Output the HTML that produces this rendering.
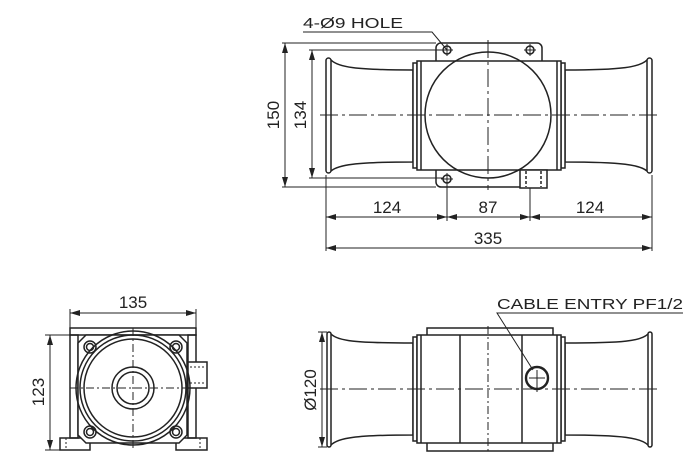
<!DOCTYPE html>
<html><head><meta charset="utf-8"><style>
html,body{margin:0;padding:0;background:#fff;}
svg{display:block;}
text{font-family:"Liberation Sans",sans-serif;fill:#222;}
</style></head><body>
<svg width="700" height="470" viewBox="0 0 700 470" xmlns="http://www.w3.org/2000/svg">
<defs>
<marker id="a" viewBox="0 0 10 6" refX="10" refY="3" markerWidth="10" markerHeight="6" orient="auto-start-reverse" markerUnits="userSpaceOnUse"><path d="M0,0 L10,3 L0,6 z" fill="#222"/></marker>
</defs>
<g fill="none" stroke="#222" stroke-width="1.5">
<!-- TOP VIEW -->
<rect x="436" y="43" width="106" height="144" rx="5"/>
<path d="M331,60 C338,67 355,70 413,70 L413,162 C355,162 338,165 331,171" fill="#fff"/>
<rect x="326" y="58" width="5" height="115" rx="2.5" fill="#fff"/>
<path d="M647,60 C640,67 623,70 565,70 L565,162 C623,162 640,165 647,171" fill="#fff"/>
<rect x="647" y="58" width="5" height="115" rx="2.5" fill="#fff"/>
<rect x="413" y="63" width="4" height="105" fill="#fff"/>
<rect x="561" y="63" width="4" height="105" fill="#fff"/>
<rect x="417" y="61" width="144" height="109" fill="#fff"/>
<line x1="421" y1="61" x2="421" y2="170"/>
<line x1="557" y1="61" x2="557" y2="170"/>
<circle cx="488" cy="115" r="63"/>
<rect x="520" y="170" width="27" height="18" fill="#fff"/>
<line x1="526" y1="171" x2="526" y2="187" stroke-dasharray="3,2"/>
<line x1="541" y1="171" x2="541" y2="187" stroke-dasharray="3,2"/>
<circle cx="447" cy="50" r="4"/><circle cx="530" cy="50" r="4"/><circle cx="447" cy="179" r="4"/>
<path d="M441,50h12M447,44v12M524,50h12M530,44v12M441,179h12M447,173v12" stroke-width="1"/>
<line x1="320" y1="115" x2="658" y2="115" stroke-dasharray="18,4,3,4" stroke-width="1"/>
<line x1="488" y1="40" x2="488" y2="190" stroke-dasharray="18,4,3,4" stroke-width="1"/>
<g stroke-width="1">
<line x1="282" y1="43" x2="436" y2="43"/><line x1="282" y1="187" x2="436" y2="187"/>
<line x1="285" y1="43" x2="285" y2="187" marker-start="url(#a)" marker-end="url(#a)"/>
<line x1="309" y1="50" x2="443" y2="50"/><line x1="309" y1="178" x2="443" y2="178"/>
<line x1="312" y1="50" x2="312" y2="178" marker-start="url(#a)" marker-end="url(#a)"/>
<line x1="326" y1="175" x2="326" y2="251"/><line x1="652" y1="175" x2="652" y2="251"/>
<line x1="447" y1="183" x2="447" y2="221"/><line x1="530" y1="188" x2="530" y2="221"/>
<line x1="326" y1="217" x2="447" y2="217" marker-start="url(#a)" marker-end="url(#a)"/>
<line x1="447" y1="217" x2="530" y2="217" marker-start="url(#a)" marker-end="url(#a)"/>
<line x1="530" y1="217" x2="652" y2="217" marker-start="url(#a)" marker-end="url(#a)"/>
<line x1="326" y1="248" x2="652" y2="248" marker-start="url(#a)" marker-end="url(#a)"/>
<polyline points="303,32 432,32 447,50"/>
</g>
<!-- SIDE VIEW -->
<rect x="70" y="328" width="126" height="7" fill="#fff"/>
<rect x="70" y="335" width="8" height="103"/>
<rect x="188" y="335" width="8" height="103"/>
<path d="M60,438 h30 v12 h-30 z M176,438 h31 v12 h-31 z"/>
<line x1="66" y1="438" x2="66" y2="450" stroke-dasharray="2,2" stroke-width="1"/>
<line x1="200" y1="438" x2="200" y2="450" stroke-dasharray="2,2" stroke-width="1"/>
<path d="M86,335 L179,335 L187,343 L187,435 L179,443 L86,443 L78,435 L78,343 Z" fill="#fff"/>
<rect x="188" y="362" width="19" height="26" fill="#fff"/>
<line x1="190" y1="367" x2="205" y2="367" stroke-dasharray="2,2" stroke-width="1"/>
<line x1="190" y1="383" x2="205" y2="383" stroke-dasharray="2,2" stroke-width="1"/>
<circle cx="133" cy="388" r="57"/><circle cx="133" cy="388" r="53"/><circle cx="133" cy="388" r="49"/>
<circle cx="133" cy="388" r="21"/><circle cx="133" cy="388" r="16"/>
<g><circle cx="90" cy="347" r="6"/><circle cx="90" cy="347" r="3.5"/>
<circle cx="176" cy="347" r="6"/><circle cx="176" cy="347" r="3.5"/>
<circle cx="90" cy="432" r="6"/><circle cx="90" cy="432" r="3.5"/>
<circle cx="176" cy="432" r="6"/><circle cx="176" cy="432" r="3.5"/></g>
<line x1="70" y1="388" x2="196" y2="388" stroke-dasharray="8,3,2,3" stroke-width="1"/>
<line x1="133" y1="328" x2="133" y2="450" stroke-dasharray="8,3,2,3" stroke-width="1"/>
<g stroke-width="1">
<line x1="70" y1="309" x2="70" y2="328"/><line x1="196" y1="309" x2="196" y2="328"/>
<line x1="70" y1="313" x2="196" y2="313" marker-start="url(#a)" marker-end="url(#a)"/>
<line x1="45" y1="335" x2="70" y2="335"/><line x1="45" y1="450" x2="60" y2="450"/>
<line x1="50" y1="335" x2="50" y2="450" marker-start="url(#a)" marker-end="url(#a)"/>
</g>
<!-- FRONT VIEW -->
<rect x="427" y="328" width="126" height="123"/>
<path d="M331,334 C338,341 355,343 413,343 L413,435 C355,435 338,438 331,445" fill="#fff"/>
<rect x="327" y="332" width="4" height="115" rx="2" fill="#fff"/>
<path d="M648,334 C641,341 624,343 565,343 L565,435 C624,435 641,438 648,445" fill="#fff"/>
<rect x="648" y="332" width="4" height="115" rx="2" fill="#fff"/>
<rect x="413" y="337" width="4" height="104" fill="#fff"/>
<rect x="561" y="337" width="4" height="104" fill="#fff"/>
<rect x="417" y="335" width="144" height="108" fill="#fff"/>
<line x1="421" y1="335" x2="421" y2="443"/><line x1="557" y1="335" x2="557" y2="443"/>
<line x1="460" y1="335" x2="460" y2="443"/><line x1="522" y1="335" x2="522" y2="443"/>
<line x1="488" y1="326" x2="488" y2="453" stroke-dasharray="8,3,2,3" stroke-width="1"/>
<line x1="320" y1="389" x2="658" y2="389" stroke-dasharray="18,4,3,4" stroke-width="1"/>
<circle cx="537" cy="378" r="11" stroke-width="2.4" fill="#fff"/>
<path d="M529,378h16M537,370v22" stroke-width="1"/>
<g stroke-width="1">
<polyline points="683,313 497,313 533,370"/>
<line x1="318" y1="332" x2="327" y2="332"/><line x1="318" y1="447" x2="327" y2="447"/>
<line x1="322" y1="332" x2="322" y2="447" marker-start="url(#a)" marker-end="url(#a)"/>
</g>
</g>
<text x="303" y="28" font-size="15" textLength="100" lengthAdjust="spacingAndGlyphs">4-Ø9 HOLE</text>
<text x="387" y="213" font-size="17" text-anchor="middle">124</text>
<text x="488" y="213" font-size="17" text-anchor="middle">87</text>
<text x="590" y="213" font-size="17" text-anchor="middle">124</text>
<text x="488" y="244" font-size="17" text-anchor="middle">335</text>
<text font-size="17" text-anchor="middle" transform="translate(279,115) rotate(-90)">150</text>
<text font-size="17" text-anchor="middle" transform="translate(306,115) rotate(-90)">134</text>
<text x="133" y="308" font-size="17" text-anchor="middle">135</text>
<text font-size="17" text-anchor="middle" transform="translate(44,392) rotate(-90)">123</text>
<text font-size="17" text-anchor="middle" transform="translate(316,390) rotate(-90)">Ø120</text>
<text x="497" y="309" font-size="15" textLength="186" lengthAdjust="spacingAndGlyphs">CABLE ENTRY PF1/2</text>
</svg>
</body></html>
